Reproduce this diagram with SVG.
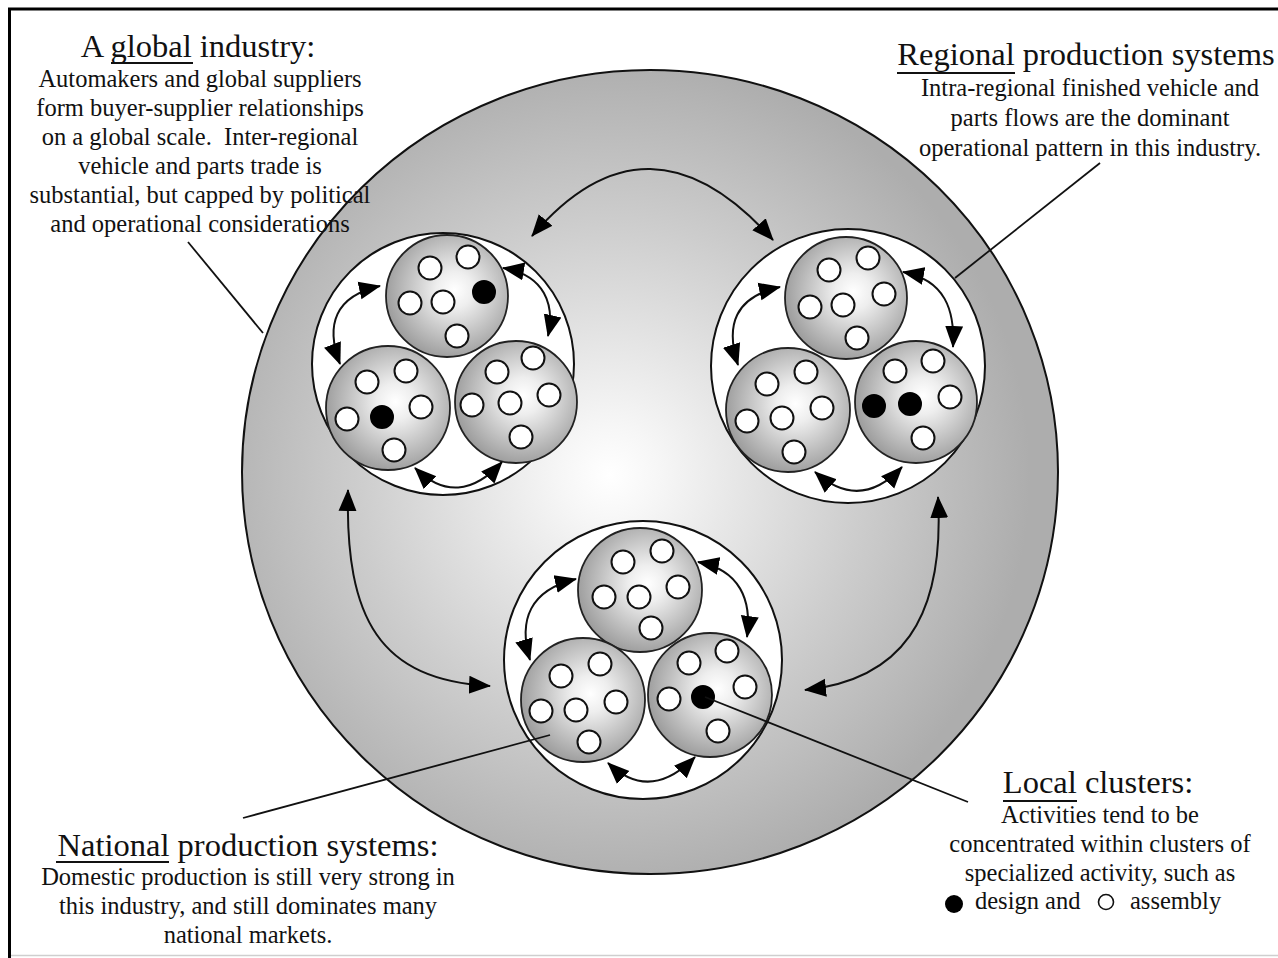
<svg xmlns="http://www.w3.org/2000/svg" width="1278" height="958" viewBox="0 0 1278 958">
<style>
text{font-family:"Liberation Serif","Times New Roman",serif;fill:#111;}
.title{font-size:32.5px;}
.body{font-size:24.5px;}
.mid{text-anchor:middle;}
.big{fill:url(#bigGrad);stroke:#111;stroke-width:2;}
.cl{fill:#fff;stroke:#111;stroke-width:2;}
.sub{fill:url(#subGrad);stroke:#222;stroke-width:1.8;}
.o{fill:#fff;stroke:#111;stroke-width:2;}
.d{fill:#000;stroke:#000;stroke-width:2;}
.arr{fill:none;stroke:#111;stroke-width:2;marker-start:url(#ah);marker-end:url(#ah);}
.lead{fill:none;stroke:#111;stroke-width:1.8;}
.ul{stroke:#111;stroke-width:2;}
</style>
<defs>
<radialGradient id="bigGrad" gradientUnits="userSpaceOnUse" cx="610" cy="475" r="420">
<stop offset="0" stop-color="#ffffff"/>
<stop offset="0.12" stop-color="#f6f6f6"/>
<stop offset="0.6" stop-color="#cdcdcd"/>
<stop offset="1" stop-color="#adadad"/>
</radialGradient>
<radialGradient id="subGrad" cx="0.56" cy="0.45" r="0.6">
<stop offset="0" stop-color="#ffffff"/>
<stop offset="0.25" stop-color="#eeeeee"/>
<stop offset="1" stop-color="#979797"/>
</radialGradient>
<marker id="ah" markerUnits="userSpaceOnUse" markerWidth="22" markerHeight="20" viewBox="0 0 22 20" refX="21" refY="10" orient="auto-start-reverse">
<path d="M0,1 L22,10 L0,19 Z" fill="#000"/>
</marker>
</defs>

<g id="frame">
<line x1="9.5" y1="8" x2="9.5" y2="958" stroke="#000" stroke-width="3"/>
<line x1="8" y1="9" x2="1278" y2="9" stroke="#000" stroke-width="3"/>
<line x1="11" y1="955.5" x2="1278" y2="955.5" stroke="#cfcfcf" stroke-width="1.5"/>
</g>

<g id="global-circle">
<ellipse class="big" cx="650" cy="472" rx="408" ry="402"/>
</g>

<g id="cluster-topleft">
<circle class="cl" cx="443" cy="364" r="131"/>
<circle class="sub" cx="447" cy="296" r="61"/>
<circle class="sub" cx="388" cy="408" r="62"/>
<circle class="sub" cx="516" cy="402" r="61"/>
<circle class="o" cx="430" cy="268" r="11.5"/>
<circle class="o" cx="468" cy="257" r="11.5"/>
<circle class="d" cx="484" cy="292" r="11"/>
<circle class="o" cx="410" cy="303" r="11.5"/>
<circle class="o" cx="443" cy="302" r="11.5"/>
<circle class="o" cx="457" cy="336" r="11.5"/>
<circle class="o" cx="367" cy="382" r="11.5"/>
<circle class="o" cx="406" cy="371" r="11.5"/>
<circle class="o" cx="421" cy="407" r="11.5"/>
<circle class="o" cx="347" cy="419" r="11.5"/>
<circle class="d" cx="382" cy="417" r="11"/>
<circle class="o" cx="394" cy="450" r="11.5"/>
<circle class="o" cx="497" cy="372" r="11.5"/>
<circle class="o" cx="533" cy="358" r="11.5"/>
<circle class="o" cx="472" cy="405" r="11.5"/>
<circle class="o" cx="510" cy="403" r="11.5"/>
<circle class="o" cx="549" cy="395" r="11.5"/>
<circle class="o" cx="521" cy="437" r="11.5"/>
</g>

<g id="cluster-topright">
<circle class="cl" cx="848" cy="366" r="137"/>
<circle class="sub" cx="846" cy="298" r="61"/>
<circle class="sub" cx="788" cy="410" r="62"/>
<circle class="sub" cx="916" cy="402" r="61"/>
<circle class="o" cx="829" cy="270" r="11.5"/>
<circle class="o" cx="868" cy="258" r="11.5"/>
<circle class="o" cx="884" cy="294" r="11.5"/>
<circle class="o" cx="810" cy="307" r="11.5"/>
<circle class="o" cx="843" cy="305" r="11.5"/>
<circle class="o" cx="857" cy="338" r="11.5"/>
<circle class="o" cx="767" cy="384" r="11.5"/>
<circle class="o" cx="806" cy="372" r="11.5"/>
<circle class="o" cx="822" cy="408" r="11.5"/>
<circle class="o" cx="747" cy="421" r="11.5"/>
<circle class="o" cx="782" cy="418" r="11.5"/>
<circle class="o" cx="794" cy="452" r="11.5"/>
<circle class="o" cx="895" cy="371" r="11.5"/>
<circle class="o" cx="933" cy="361" r="11.5"/>
<circle class="o" cx="950" cy="397" r="11.5"/>
<circle class="d" cx="874" cy="406" r="11"/>
<circle class="d" cx="910" cy="404" r="11"/>
<circle class="o" cx="923" cy="438" r="11.5"/>
</g>

<g id="cluster-bottom">
<circle class="cl" cx="643" cy="660" r="139"/>
<circle class="sub" cx="640" cy="590" r="62"/>
<circle class="sub" cx="583" cy="700" r="62"/>
<circle class="sub" cx="710" cy="695" r="62"/>
<circle class="o" cx="623" cy="562" r="11.5"/>
<circle class="o" cx="662" cy="551" r="11.5"/>
<circle class="o" cx="678" cy="587" r="11.5"/>
<circle class="o" cx="604" cy="597" r="11.5"/>
<circle class="o" cx="639" cy="597" r="11.5"/>
<circle class="o" cx="651" cy="628" r="11.5"/>
<circle class="o" cx="561" cy="676" r="11.5"/>
<circle class="o" cx="600" cy="664" r="11.5"/>
<circle class="o" cx="616" cy="702" r="11.5"/>
<circle class="o" cx="541" cy="711" r="11.5"/>
<circle class="o" cx="576" cy="710" r="11.5"/>
<circle class="o" cx="589" cy="742" r="11.5"/>
<circle class="o" cx="689" cy="663" r="11.5"/>
<circle class="o" cx="727" cy="651" r="11.5"/>
<circle class="o" cx="745" cy="687" r="11.5"/>
<circle class="o" cx="669" cy="699" r="11.5"/>
<circle class="d" cx="703" cy="697" r="11"/>
<circle class="o" cx="718" cy="731" r="11.5"/>
</g>

<g id="connectors">
<path class="arr" d="M532,236 Q648,100 773,240"/>
<path class="arr" d="M348,490 C345,620 380,680 490,686"/>
<path class="arr" d="M938,497 C945,620 900,680 805,690"/>
<path class="arr" d="M380,286 C335,296 325,325 340,364"/>
<path class="arr" d="M503,268 C545,275 555,305 548,336"/>
<path class="arr" d="M415,468 Q458,510 502,462"/>
<path class="arr" d="M780,287 C735,297 725,325 738,365"/>
<path class="arr" d="M903,272 C945,280 955,310 953,347"/>
<path class="arr" d="M815,472 Q860,512 902,467"/>
<path class="arr" d="M576,579 C530,590 518,620 530,660"/>
<path class="arr" d="M698,562 C740,570 752,600 747,637"/>
<path class="arr" d="M608,763 Q650,803 695,757"/>
<line class="lead" x1="188" y1="242" x2="263" y2="333"/>
<line class="lead" x1="1100" y1="163" x2="955" y2="278"/>
<line class="lead" x1="243" y1="818" x2="550" y2="735"/>
<line class="lead" x1="705" y1="697" x2="968" y2="802"/>
</g>

<g id="label-global">
<text class="title mid" x="198" y="57">A global industry:</text>
<line class="ul" x1="111" y1="63" x2="193" y2="63"/>
<text class="body mid" x="200" y="87">Automakers and global suppliers</text>
<text class="body mid" x="200" y="116">form buyer-supplier relationships</text>
<text class="body mid" x="200" y="145">on a global scale.&#160; Inter-regional</text>
<text class="body mid" x="200" y="174">vehicle and parts trade is</text>
<text class="body mid" x="200" y="203">substantial, but capped by political</text>
<text class="body mid" x="200" y="232">and operational considerations</text>
</g>

<g id="label-regional">
<text class="title mid" x="1086" y="65">Regional production systems</text>
<line class="ul" x1="897" y1="73" x2="1015" y2="73"/>
<text class="body mid" x="1090" y="96">Intra-regional finished vehicle and</text>
<text class="body mid" x="1090" y="126">parts flows are the dominant</text>
<text class="body mid" x="1090" y="156">operational pattern in this industry.</text>
</g>

<g id="label-national">
<text class="title mid" x="248" y="856">National production systems:</text>
<line class="ul" x1="56" y1="862" x2="169" y2="862"/>
<text class="body mid" x="248" y="885">Domestic production is still very strong in</text>
<text class="body mid" x="248" y="914">this industry, and still dominates many</text>
<text class="body mid" x="248" y="943">national markets.</text>
</g>

<g id="label-local">
<text class="title mid" x="1098" y="793">Local clusters:</text>
<line class="ul" x1="1003" y1="801" x2="1077" y2="801"/>
<text class="body mid" x="1100" y="823">Activities tend to be</text>
<text class="body mid" x="1100" y="852">concentrated within clusters of</text>
<text class="body mid" x="1100" y="881">specialized activity, such as</text>
<circle cx="954" cy="904" r="9" fill="#000"/>
<text class="body" x="975" y="909">design and</text>
<circle cx="1106" cy="902" r="7.5" fill="none" stroke="#111" stroke-width="1.6"/>
<text class="body" x="1130" y="909">assembly</text>
</g>
</svg>
